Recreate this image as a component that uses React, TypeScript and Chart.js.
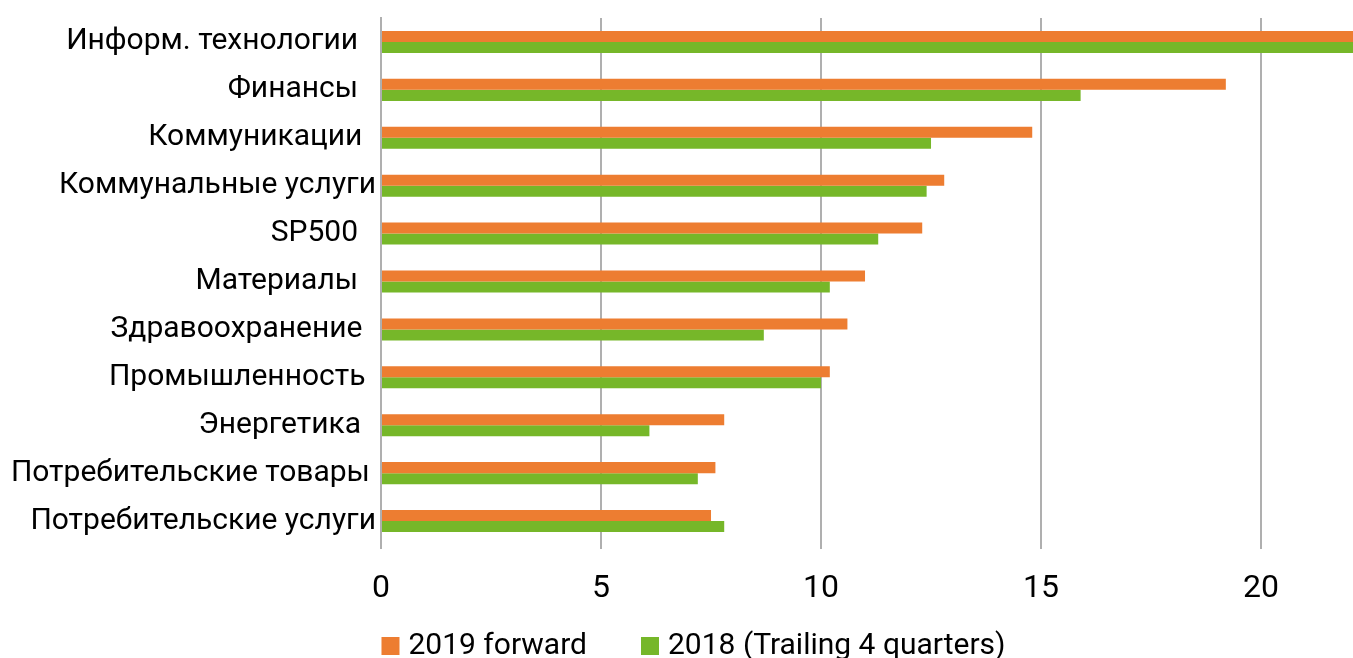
import React, { useEffect, useRef } from "react";
import { Chart, registerables } from "chart.js";

Chart.register(...registerables);

const categories = [
  "Информ. технологии  \u200A",
  "Финансы  \u200A",
  "Коммуникации \u2009",
  "Коммунальные услуги",
  "SP500  \u200A",
  "Материалы  \u200A",
  "Здравоохранение \u2009",
  "Промышленность \u200A",
  "Энергетика  ",
  "Потребительские товары\u2009",
  "Потребительские услуги",
];
const forward2019 = [23.5, 19.2, 14.8, 12.8, 12.3, 11.0, 10.6, 10.2, 7.8, 7.6, 7.5];
const trailing2018 = [23.0, 15.9, 12.5, 12.4, 11.3, 10.2, 8.7, 10.0, 6.1, 7.2, 7.8];
const xTicks = [0, 5, 10, 15, 20];
const seriesNames = ["2019 forward", "2018 (Trailing 4 quarters)"];
const seriesColors = ["#ED7D31", "#76B729"];

const FONT = "Roboto";

const customLegend = {
  id: "customLegend",
  afterDraw(chart: any) {
    const ctx = chart.ctx;
    const fontSize = 30;
    const box = 18;
    const gapBoxText = 9;
    const gapItems = 54;
    ctx.save();
    ctx.font = `${fontSize}px ${FONT}`;
    const items = chart.data.datasets.map((ds: any) => ({
      label: ds.label,
      color: ds.backgroundColor,
      w: box + gapBoxText + ctx.measureText(ds.label).width,
    }));
    const total = items.reduce((s: number, it: any) => s + it.w, 0) + gapItems * (items.length - 1);
    let x = 693.5 - total / 2;
    const baseline = 654;
    ctx.textBaseline = "alphabetic";
    ctx.textAlign = "left";
    items.forEach((it: any) => {
      ctx.fillStyle = it.color;
      ctx.fillRect(x, baseline - 17, box, box);
      ctx.fillStyle = "#000";
      ctx.fillText(it.label, x + box + gapBoxText, baseline);
      x += it.w + gapItems;
    });
    ctx.restore();
  },
};

export default function App() {
  const ref = useRef<HTMLCanvasElement | null>(null);
  useEffect(() => {
    if (!ref.current) return;
    const chart = new Chart(ref.current, {
      type: "bar",
      data: {
        labels: categories,
        datasets: [
          {
            label: seriesNames[0],
            data: forward2019,
            backgroundColor: seriesColors[0],
            categoryPercentage: 0.46,
            barPercentage: 1,
          },
          {
            label: seriesNames[1],
            data: trailing2018,
            backgroundColor: seriesColors[1],
            categoryPercentage: 0.46,
            barPercentage: 1,
          },
        ],
      },
      plugins: [customLegend],
      options: {
        indexAxis: "y",
        animation: false,
        responsive: true,
        maintainAspectRatio: false,
        layout: { padding: { top: 18, left: 0, right: 0, bottom: 0 } },
        plugins: {
          tooltip: { enabled: false },
          legend: { display: false },
        },
        scales: {
          x: {
            min: 0,
            max: 22.09,
            afterBuildTicks: (scale: any) => {
              scale.ticks = xTicks.map((v) => ({ value: v }));
            },
            afterFit: (scale: any) => {
              scale.height = 113;
              scale.paddingLeft = 0;
              scale.paddingRight = 0;
            },
            grid: {
              color: "#AFAFAF",
              lineWidth: 2,
              drawTicks: true,
              tickLength: 4,
            },
            border: { display: false },
            ticks: {
              color: "#000",
              font: { family: FONT, size: 32 },
              padding: 21,
            },
          },
          y: {
            afterFit: (scale: any) => {
              scale.width = 381;
              scale.paddingTop = 0;
              scale.paddingBottom = 0;
            },
            grid: { display: false, drawTicks: false },
            border: { display: true, color: "#AFAFAF", width: 2 },
            ticks: {
              color: "#000",
              font: { family: FONT, size: 30 },
              padding: 5,
              autoSkip: false,
            },
          },
        },
      },
    });
    return () => chart.destroy();
  }, []);
  return (
    <div style={{ position: "fixed", left: 0, top: 0, width: 1353, height: 658, background: "#fff" }}>
      <canvas ref={ref} />
    </div>
  );
}
